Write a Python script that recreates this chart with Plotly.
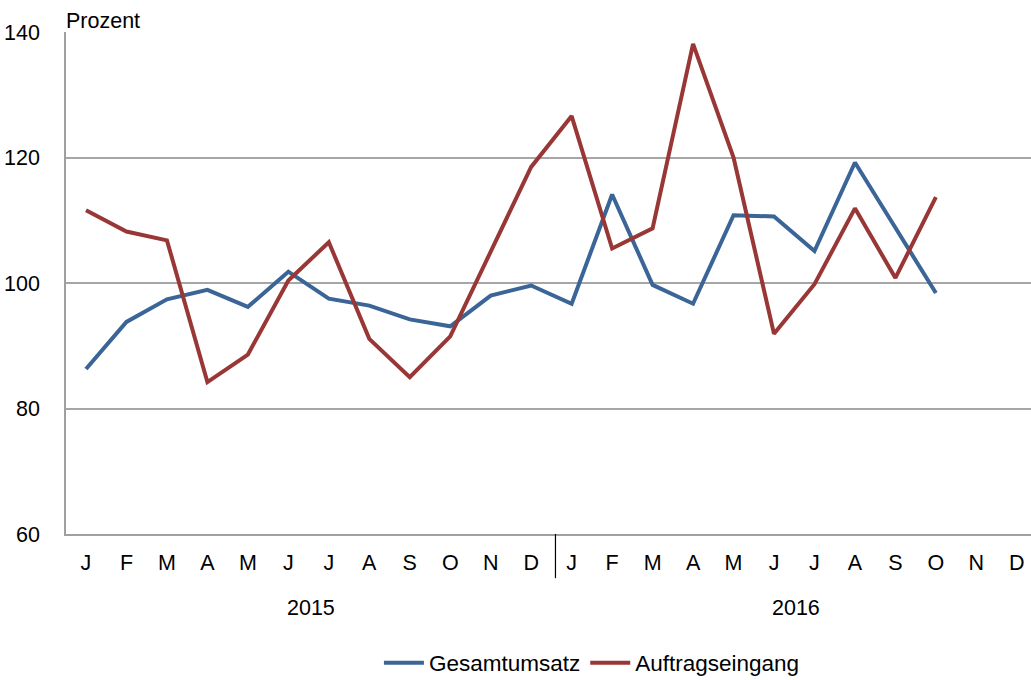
import plotly.graph_objects as go

months = ["J", "F", "M", "A", "M", "J", "J", "A", "S", "O", "N", "D",
          "J", "F", "M", "A", "M", "J", "J", "A", "S", "O", "N", "D"]
years = ["2015", "2016"]

gesamtumsatz = [86.3, 93.8, 97.4, 98.9, 96.2, 101.8, 97.5, 96.4, 94.2, 93.1, 98.0, 99.6,
                96.7, 114.1, 99.7, 96.7, 110.8, 110.6, 105.1, 119.2, 108.8, 98.4, None, None]
auftragseingang = [111.6, 108.2, 106.8, 84.2, 88.6, 100.4, 106.5, 91.1, 85.0, 91.5, 105.0, 118.5,
                   126.6, 105.5, 108.7, 138.1, 120.0, 91.9, 99.8, 111.9, 100.8, 113.7, None, None]

x = list(range(len(months)))
FONT = "Liberation Sans, Arial, sans-serif"
FS = 21.5

fig = go.Figure()
fig.add_trace(go.Scatter(x=x, y=gesamtumsatz, mode="lines", name="Gesamtumsatz",
                         line=dict(color="#3A6596", width=4)))
fig.add_trace(go.Scatter(x=x, y=auftragseingang, mode="lines", name="Auftragseingang",
                         line=dict(color="#983735", width=4)))

fig.update_layout(
    width=1031, height=680,
    margin=dict(l=66, r=0, t=32, b=146, autoexpand=False),
    paper_bgcolor="white", plot_bgcolor="white",
    font=dict(family=FONT, size=FS, color="black"),
    showlegend=True,
    legend=dict(orientation="h", x=0.545, xanchor="center", y=-0.257, yanchor="middle",
                font=dict(size=22.5), itemwidth=40, tracegroupgap=0),
    xaxis=dict(range=[-0.494, 23.35], tickmode="array", tickvals=x, ticktext=months,
               showgrid=False, zeroline=False, showline=True, linecolor="#A0A0A0", linewidth=1.5,
               ticks="", ticklabelstandoff=8, fixedrange=True, automargin=False),
    yaxis=dict(range=[60, 140], dtick=20, showgrid=True, gridcolor="#A6A6A6", gridwidth=1.5,
               zeroline=False, showline=True, linecolor="#A0A0A0", linewidth=1.5,
               ticks="", ticklabelstandoff=20, automargin=False, fixedrange=True),
)

for i, yr in enumerate(years):
    fig.add_annotation(x=5.55 + 12 * i, y=-0.147, xref="x", yref="paper", text=yr,
                       showarrow=False, font=dict(size=FS), yanchor="middle")
fig.add_shape(type="line", x0=11.6, x1=11.6, xref="x", y0=0, y1=-0.088, yref="paper",
              line=dict(color="black", width=1.2))
fig.add_annotation(x=0, y=1.0, xref="paper", yref="paper", text="Prozent", showarrow=False,
                   xanchor="left", yanchor="bottom", yshift=-3, xshift=-2, font=dict(size=FS))

fig.write_html("out.html", config={"displayModeBar": False},
               post_script="document.body.style.margin='0';document.body.style.overflow='hidden';")
